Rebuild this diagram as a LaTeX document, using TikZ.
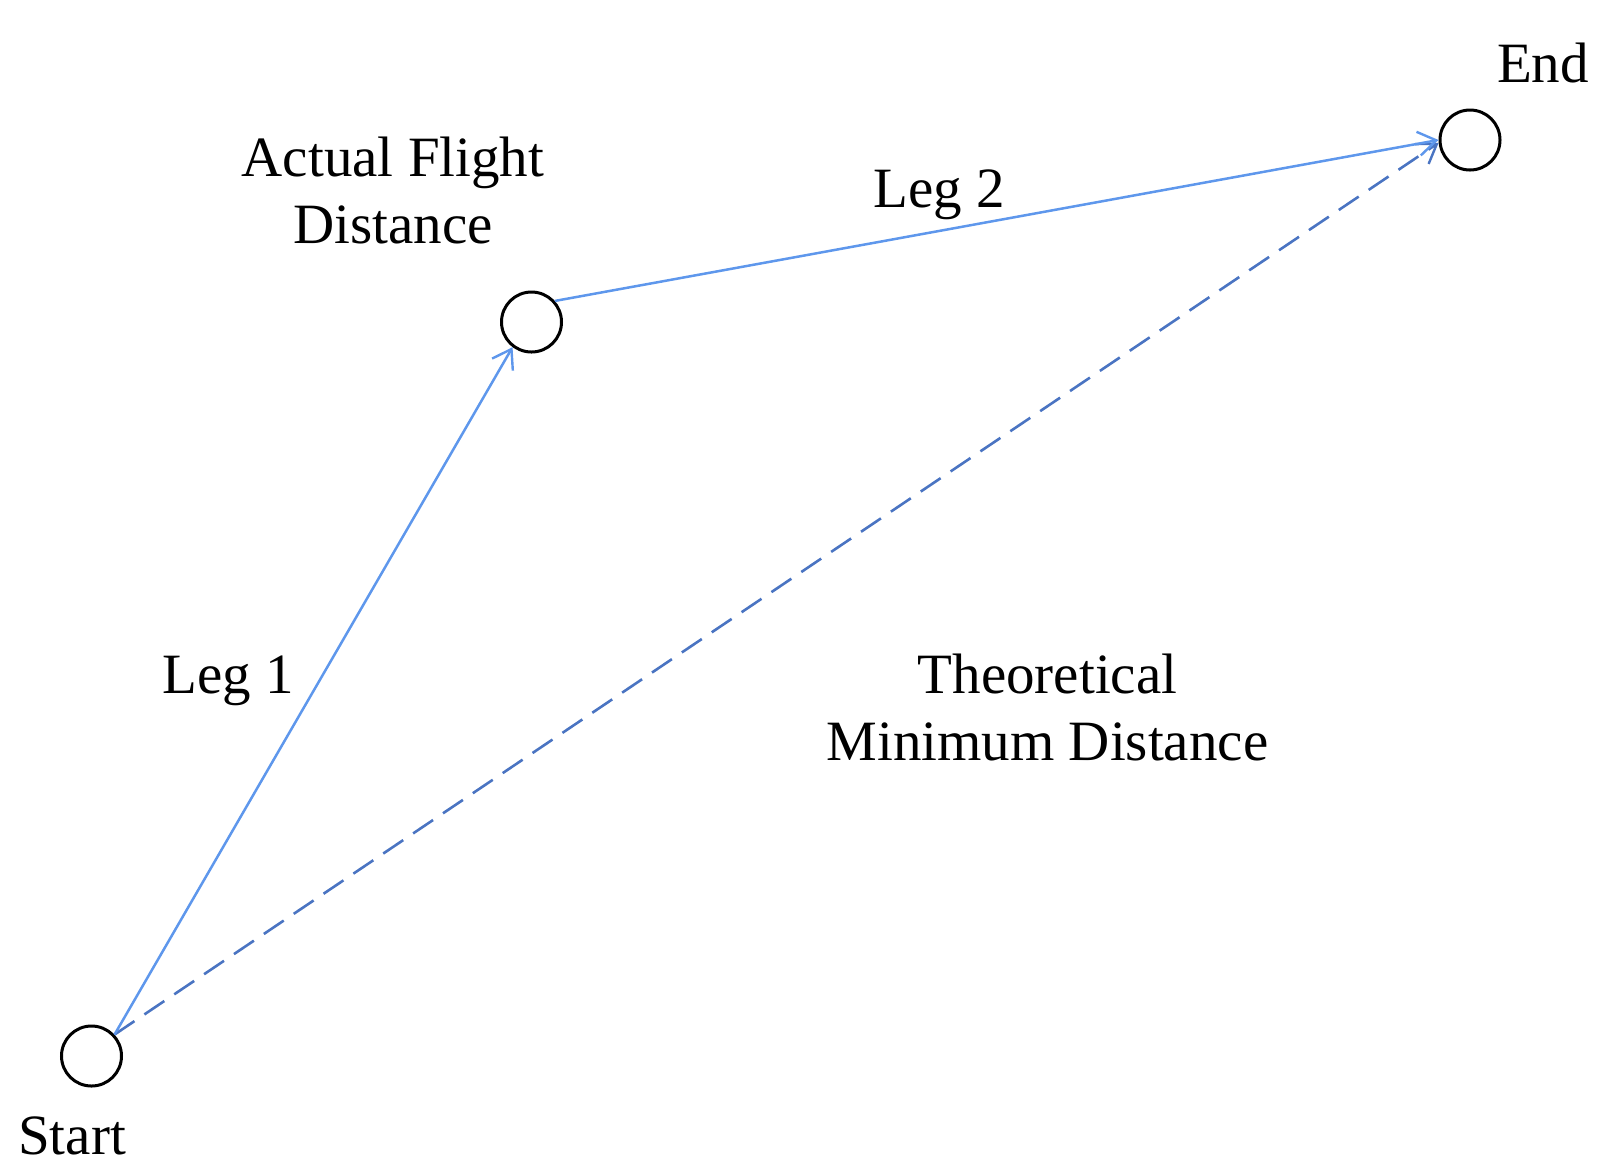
\documentclass[tikz,border=0pt]{standalone}
\usepackage{fontspec}
\setmainfont{Liberation Serif}
\usetikzlibrary{arrows.meta}
\definecolor{legblue}{HTML}{5E97EC}
\definecolor{dashblue}{HTML}{4A74C2}
\begin{document}
\begin{tikzpicture}[x=0.5pt,y=-0.5pt,
  waypt/.style={circle,draw=black,line width=1.5pt,minimum size=30pt,inner sep=0pt},
  lbl/.style={font=\fontsize{28.5}{33.5}\selectfont,inner sep=0pt,align=center,anchor=base},
  leg/.style={draw=legblue,line width=1.25pt,-{Straight Barb[length=9pt,width=12pt,line width=1.2pt]}},
  direct/.style={draw=dashblue,line width=1.3pt,dash pattern=on 12pt off 6pt,-{Straight Barb[length=9pt,width=12pt,line width=1.2pt]}}]
\useasboundingbox (0,0) rectangle (1611,1175);
\node[waypt] (s) at (91.5,1056) {};
\node[waypt] (m) at (531.5,322) {};
\node[waypt] (e) at (1470,140) {};
\node[lbl] (ls) at (72,1154) {Start};
\node[lbl] (le) at (1543,82) {End};
\node[lbl] (la) at (393,243) {Actual Flight\\Distance};
\node[lbl] (l2) at (939,207) {Leg 2};
\node[lbl] (l1) at (228,693) {Leg 1};
\node[lbl] (lt) at (1047.5,760) {Theoretical\\Minimum Distance};
\draw[direct] (s.43) -- (e.185);
\draw[leg] (s.43) -- (m.233);
\draw[leg] (m.42) -- (e.180);
\end{tikzpicture}
\end{document}
